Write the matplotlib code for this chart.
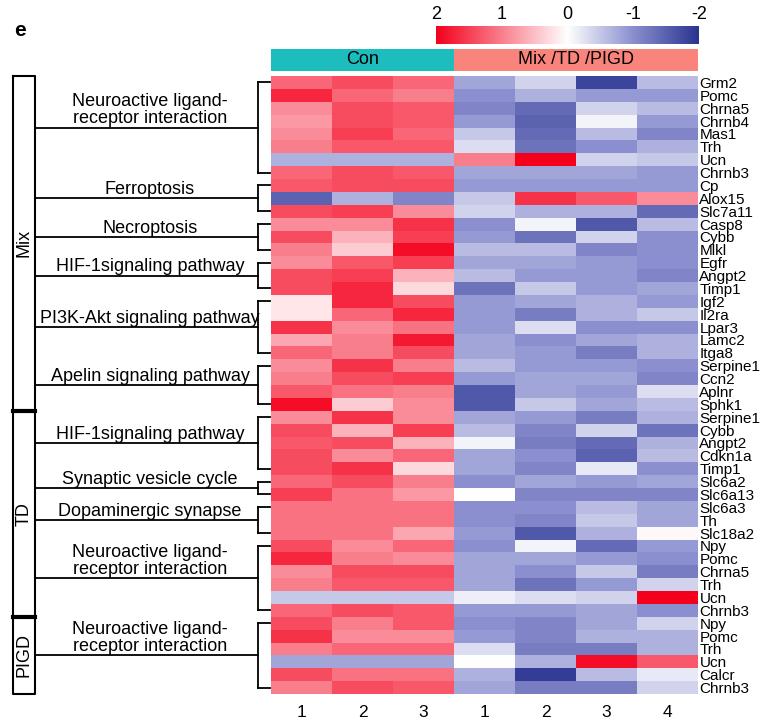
import numpy as np
import matplotlib
matplotlib.use("Agg")
import matplotlib.pyplot as plt
from matplotlib.colors import LinearSegmentedColormap

plt.rcParams['font.family'] = ['Liberation Sans', 'DejaVu Sans']

# genes (rows, top to bottom)
genes = ["Grm2", "Pomc", "Chrna5", "Chrnb4", "Mas1", "Trh", "Ucn", "Chrnb3",
         "Cp", "Alox15", "Slc7a11", "Casp8", "Cybb", "Mlkl", "Egfr", "Angpt2",
         "Timp1", "Igf2", "Il2ra", "Lpar3", "Lamc2", "Itga8", "Serpine1", "Ccn2",
         "Aplnr", "Sphk1", "Serpine1", "Cybb", "Angpt2", "Cdkn1a", "Timp1", "Slc6a2",
         "Slc6a13", "Slc6a3", "Th", "Slc18a2", "Npy", "Pomc", "Chrna5", "Trh",
         "Ucn", "Chrnb3", "Npy", "Pomc", "Trh", "Ucn", "Calcr", "Chrnb3"]

# z-scores, Con samples 1-3
con_vals = [
    [1.2, 1.4, 1.2], [1.7, 1.2, 1.0], [0.9, 1.4, 1.3], [0.8, 1.4, 1.3],
    [0.9, 1.5, 1.2], [1.0, 1.3, 1.3], [-0.7, -0.7, -0.7], [1.2, 1.4, 1.3],
    [1.3, 1.4, 1.4], [-1.5, -0.7, -1.1], [1.4, 1.5, 0.9], [0.9, 0.9, 1.6],
    [1.4, 0.6, 1.5], [1.0, 0.4, 1.9], [0.9, 1.3, 1.5], [1.4, 1.5, 0.6],
    [1.4, 1.7, 0.3], [0.2, 1.7, 1.4], [0.2, 1.2, 1.7], [1.6, 0.9, 1.1],
    [0.7, 1.0, 1.8], [1.2, 1.0, 1.4], [0.9, 1.6, 1.0], [1.0, 1.4, 1.5],
    [1.3, 1.1, 1.0], [1.9, 0.4, 0.9], [0.9, 1.6, 0.9], [1.4, 0.6, 1.5],
    [1.3, 1.4, 0.6], [1.4, 0.9, 1.2], [1.4, 1.6, 0.3], [1.2, 1.4, 1.0],
    [1.5, 1.1, 0.8], [1.1, 1.1, 1.1], [1.1, 1.1, 1.1], [1.1, 1.1, 0.7],
    [1.4, 0.9, 1.2], [1.7, 1.0, 0.9], [0.9, 1.4, 1.4], [1.0, 1.3, 1.3],
    [-0.5, -0.5, -0.5], [1.2, 1.4, 1.3], [1.4, 1.0, 1.3], [1.6, 0.9, 0.9],
    [1.0, 1.2, 1.2], [-0.8, -0.8, -0.8], [1.4, 1.1, 1.1], [1.0, 1.4, 1.3],
]

# z-scores, Mix/TD/PIGD samples 1-4
dis_vals = [
    [-0.8, -0.4, -1.8, -0.6], [-1.0, -0.7, -0.9, -0.9], [-1.1, -1.4, -0.4, -0.6],
    [-0.9, -1.5, -0.1, -0.9], [-0.5, -1.4, -0.6, -1.1], [-0.3, -1.3, -1.0, -0.7],
    [1.0, 2.0, -0.4, -0.5], [-0.8, -0.8, -0.8, -0.9], [-0.9, -0.9, -0.9, -0.9],
    [-0.5, 1.6, 1.3, 0.9], [-0.4, -0.7, -0.7, -1.4], [-1.0, -0.1, -1.6, -0.6],
    [-0.9, -1.3, -0.4, -1.0], [-0.6, -0.6, -1.1, -1.0], [-0.8, -0.8, -0.9, -1.0],
    [-0.6, -0.9, -0.9, -1.1], [-1.3, -0.5, -0.9, -0.8], [-0.9, -0.8, -0.7, -0.9],
    [-0.9, -1.2, -0.7, -0.5], [-0.9, -0.3, -1.0, -1.0], [-0.8, -1.0, -0.8, -0.7],
    [-0.8, -0.9, -1.2, -0.7], [-0.6, -0.9, -0.9, -1.0], [-0.9, -0.8, -0.8, -1.1],
    [-1.6, -0.8, -0.9, -0.3], [-1.6, -0.5, -0.8, -0.6], [-0.8, -0.9, -1.2, -0.7],
    [-0.6, -1.1, -0.4, -1.3], [-0.1, -1.2, -1.4, -0.7], [-0.8, -1.0, -1.5, -0.6],
    [-0.8, -1.1, -0.2, -1.0], [-1.0, -0.8, -0.9, -0.8], [0.0, -1.1, -1.1, -1.1],
    [-1.0, -1.0, -0.6, -0.8], [-1.0, -1.1, -0.5, -0.8], [-0.9, -1.6, -0.7, 0.05],
    [-1.0, -0.1, -1.4, -0.9], [-0.8, -0.8, -0.9, -1.0], [-0.8, -1.0, -0.5, -1.2],
    [-0.8, -1.3, -0.9, -0.4], [-0.15, -0.3, -0.4, 2.0], [-0.9, -0.9, -0.8, -1.0],
    [-1.0, -1.1, -0.8, -0.4], [-0.9, -1.1, -0.7, -0.7], [-0.3, -1.2, -1.2, -0.7],
    [0.0, -0.7, 1.9, 1.3], [-0.7, -1.9, -0.6, -0.2], [-0.8, -1.2, -1.2, -0.4],
]

sample_labels = ["1", "2", "3", "1", "2", "3", "4"]
header_names = ["Con", "Mix /TD /PIGD"]
header_cols = [3, 4]
cbar_ticks = [2, 1, 0, -1, -2]

# pathway groups: name, first row, last row
pathways = ["Neuroactive ligand-\nreceptor interaction", "Ferroptosis", "Necroptosis",
            "HIF-1signaling pathway", "PI3K-Akt signaling pathway", "Apelin signaling pathway",
            "HIF-1signaling pathway", "Synaptic vesicle cycle", "Dopaminergic synapse",
            "Neuroactive ligand-\nreceptor interaction", "Neuroactive ligand-\nreceptor interaction"]
path_start = [0, 8, 11, 14, 17, 22, 26, 31, 33, 36, 42]
path_end = [7, 10, 13, 16, 21, 25, 30, 32, 35, 41, 47]

# disease type blocks
types = ["Mix", "TD", "PIGD"]
type_start = [0, 26, 42]
type_end = [26, 42, 48]

data = np.hstack([np.array(con_vals), np.array(dis_vals)])
n_rows, n_cols = data.shape

cmap = LinearSegmentedColormap.from_list(
    "bwr_ref", [(0, "#2a3490"), (0.25, "#8b8fcf"), (0.5, "#ffffff"), (1, "#f4001c")])

W, H = 782, 720
fig = plt.figure(figsize=(W / 100, H / 100), dpi=100)


def px_axes(x0, y0, x1, y1):
    return fig.add_axes([x0 / W, 1 - y1 / H, (x1 - x0) / W, (y1 - y0) / H])


# heatmap
ax = px_axes(271, 76, 698, 694)
ax.pcolormesh(np.arange(n_cols + 1), np.arange(n_rows + 1), data,
              cmap=cmap, vmin=-2, vmax=2)
ax.set_xlim(0, n_cols)
ax.set_ylim(n_rows, 0)
ax.set_xticks(np.arange(n_cols) + 0.5)
ax.set_xticklabels(sample_labels, fontsize=12.5)
ax.yaxis.tick_right()
ax.set_yticks(np.arange(n_rows) + 0.5)
ax.set_yticklabels(genes, fontsize=11)
ax.tick_params(length=0, axis="y", pad=1)
ax.tick_params(length=0, axis="x", pad=8)
for s in ax.spines.values():
    s.set_visible(False)

# group header bar
hax = px_axes(271, 49, 698, 71)
left = 0
for name, n, col in zip(header_names, header_cols, ["#1dbcbd", "#f9847c"]):
    hax.barh(0, n, left=left, height=1, color=col)
    hax.text(left + n / 2, 0, name, ha="center", va="center", fontsize=13)
    left += n
hax.set_xlim(0, n_cols)
hax.set_ylim(-0.5, 0.5)
hax.axis("off")

# colour key
cax = px_axes(436, 26, 699, 44)
grad = np.linspace(2, -2, 256)[None, :]
cax.imshow(grad, cmap=cmap, vmin=-2, vmax=2, aspect="auto", extent=(2, -2, 0, 1))
cax.set_xlim(2, -2)
cax.set_yticks([])
cax.xaxis.tick_top()
cax.set_xticks(cbar_ticks)
cax.set_xticklabels([str(t) for t in cbar_ticks], fontsize=13)
cax.tick_params(length=0, pad=2)
for s in cax.spines.values():
    s.set_visible(False)

# left side annotation (x in pixels, y in rows)
lax = px_axes(13, 76, 271, 694)
lax.set_xlim(13, 271)
lax.set_ylim(n_rows, 0)
lax.axis("off")
lw = 1.3
for name, s, e in zip(pathways, path_start, path_end):
    top, bot = s + 0.5, e + 0.5
    mid = (top + bot) / 2
    lax.plot([258, 258], [top, bot], color="black", lw=lw, clip_on=False)
    lax.plot([258, 270], [top, top], color="black", lw=lw, clip_on=False)
    lax.plot([258, 270], [bot, bot], color="black", lw=lw, clip_on=False)
    lax.plot([35, 258], [mid, mid], color="black", lw=lw, clip_on=False)
    lax.annotate(name, (150, mid), xytext=(0, 0.3), textcoords="offset points",
                 ha="center", va="bottom", fontsize=13, linespacing=1.0)

for name, s, e in zip(types, type_start, type_end):
    lax.plot([13, 35, 35, 13, 13], [s, s, e, e, s], color="black", lw=1.5, clip_on=False)
    lax.text(24, (s + e) / 2, name, rotation=90, ha="center", va="center", fontsize=13)
for s in type_start[1:]:
    lax.plot([13, 35], [s, s], color="black", lw=3, clip_on=False)

fig.text(14 / W, 1 - 30 / H, "e", fontweight="bold", fontsize=15, va="center")

fig.savefig("out.png", dpi=100)
